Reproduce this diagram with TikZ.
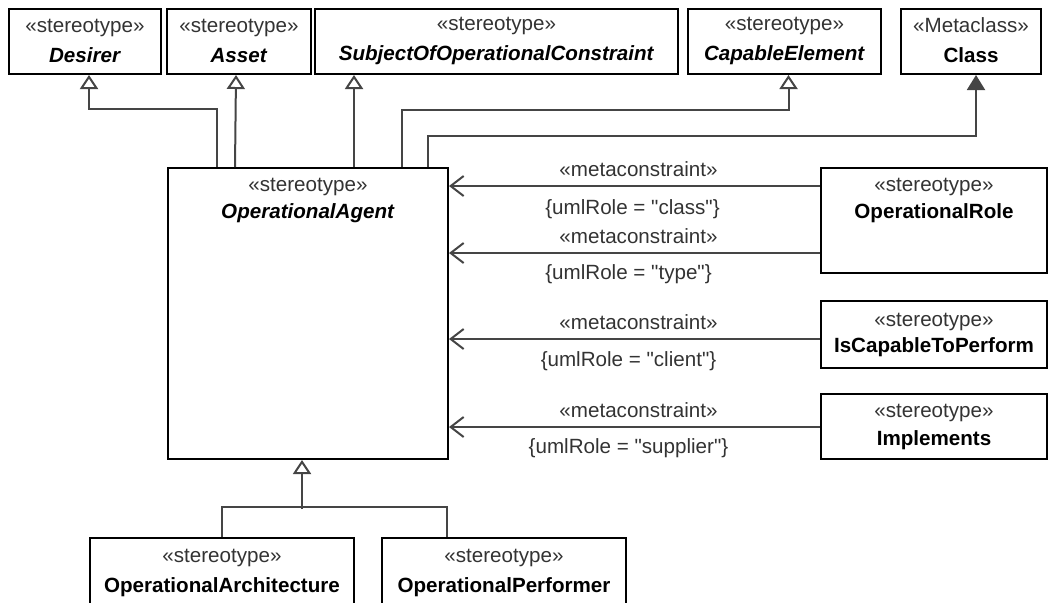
\documentclass[tikz,border=0pt]{standalone}
\usepackage{fontspec}
\setmainfont{Liberation Sans}
\newfontfamily\plainf{Liberation Sans}
\usetikzlibrary{arrows.meta,calc}
\definecolor{stc}{HTML}{333333}
\definecolor{lnc}{HTML}{454545}
\tikzset{
  box/.style={draw=black, line width=1pt, fill=white, inner sep=0pt, anchor=north west},
  txt/.style={align=center, font=\fontsize{10.3}{15}\selectfont, inner sep=0pt},
  gen/.style={draw=lnc, line width=1pt, -{Triangle[open, length=7pt, width=9pt, fill=white]}},
  dep/.style={draw=lnc, line width=1pt, -{Triangle[length=7.5pt, width=9pt]}},
  meta/.style={draw=lnc, line width=1pt, -{Straight Barb[length=6.5pt, width=10pt]}},
  lab/.style={font=\plainf\fontsize{10.3}{12}\selectfont, text=stc, inner sep=2pt},
}
\newcommand{\st}[1]{{\color{stc}«#1»}}
\begin{document}
\begin{tikzpicture}[x=0.5pt,y=-0.5pt]
\useasboundingbox (0,0) rectangle (1048,602);
\clip (0,0) rectangle (1048,602);
% top row
\node[box, minimum width=76pt, minimum height=32.5pt] (desirer) at (8,8) {};
\node[txt] at ($(desirer.center)+(0,-1)$) {\st{stereotype}\\\textbf{\textit{Desirer}}};
\node[box, minimum width=72pt, minimum height=32.5pt] (asset) at (166,8) {};
\node[txt] at ($(asset.center)+(0,-1)$) {\st{stereotype}\\\textbf{\textit{Asset}}};
\node[box, minimum width=181.5pt, minimum height=32.5pt] (subject) at (314,8) {};
\node[txt] at ($(subject.center)+(0,-1)$) {\st{stereotype}\\\textbf{\textit{SubjectOfOperationalConstraint}}};
\node[box, minimum width=96.5pt, minimum height=32.5pt] (capable) at (687,8) {};
\node[txt] at ($(capable.center)+(0,-1)$) {\st{stereotype}\\\textbf{\textit{CapableElement}}};
\node[box, minimum width=70pt, minimum height=32.5pt] (class) at (900,8) {};
\node[txt] at ($(class.center)+(0,-1)$) {\st{Metaclass}\\\textbf{Class}};
% central
\node[box, minimum width=140pt, minimum height=145.5pt] (oa) at (167,167) {};
\node[txt, anchor=north] at ($(oa.north)+(0,11)$) {\st{stereotype}\\[-1.5pt]\textbf{\textit{OperationalAgent}}};
% right
\node[box, minimum width=113pt, minimum height=52.5pt] (oprole) at (820,167) {};
\node[txt, anchor=north] at ($(oprole.north)+(0,11)$) {\st{stereotype}\\[-1.5pt]\textbf{OperationalRole}};
\node[box, minimum width=113pt, minimum height=33.5pt] (iscap) at (820,300) {};
\node[txt] at (iscap.center) {\st{stereotype}\\[-2pt]\textbf{IsCapableToPerform}};
\node[box, minimum width=113pt, minimum height=32.5pt] (impl) at (820,393) {};
\node[txt] at (impl.center) {\st{stereotype}\\[-1pt]\textbf{Implements}};
% bottom
\node[box, minimum width=132pt, minimum height=40pt] (oparch) at (89,537) {};
\node[txt, anchor=north] at ($(oparch.north)+(0,12)$) {\st{stereotype}\\\textbf{OperationalArchitecture}};
\node[box, minimum width=122pt, minimum height=40pt] (opperf) at (381,537) {};
\node[txt, anchor=north] at ($(opperf.north)+(0,12)$) {\st{stereotype}\\\textbf{OperationalPerformer}};
% generalizations (top)
\draw[gen] ($(oa.north west)+(50,0)$) |- ($(desirer.south)+(4,34)$) -- ($(desirer.south)+(4,0)$);
\draw[gen] ($(oa.north west)+(68,0)$) -- ($(asset.south)+(-3,0)$);
\draw[gen] ($(oa.north west)+(187,0)$) -- ($(subject.south west)+(40,0)$);
\draw[gen] ($(oa.north west)+(235,0)$) |- ($(capable.south)+(4,35)$) -- ($(capable.south)+(4,0)$);
\draw[dep] ($(oa.north west)+(261,0)$) |- ($(class.south)+(5,61)$) -- ($(class.south)+(5,0)$);
% metaconstraints
\draw[meta] ($(oprole.north west)+(0,19)$) -- node[lab, above=2pt, xshift=2pt]{«metaconstraint»} node[lab, below=4.5pt, xshift=-1pt]{\{umlRole = "class"\}} ($(oa.north east)+(0,19)$);
\draw[meta] ($(oprole.north west)+(0,86)$) -- node[lab, above=2pt, xshift=2pt]{«metaconstraint»} node[lab, below=3.5pt, xshift=-3pt]{\{umlRole = "type"\}} ($(oa.north east)+(0,86)$);
\draw[meta] ($(iscap.north west)+(0,39)$) -- node[lab, above=2pt, xshift=2pt]{«metaconstraint»} node[lab, below=4pt, xshift=-3pt]{\{umlRole = "client"\}} ($(oa.north east)+(0,172)$);
\draw[meta] ($(impl.north west)+(0,34)$) -- node[lab, above=2pt, xshift=2pt]{«metaconstraint»} node[lab, below=3.5pt, xshift=-3pt]{\{umlRole = "supplier"\}} ($(oa.north east)+(0,260)$);
% generalizations (bottom)
\draw[draw=lnc, line width=1pt] (oparch.north) |- ($(opperf.north west)+(66,-30)$) -- ($(opperf.north west)+(66,0)$);
\draw[gen] ($(oa.south)+(-6,49)$) -- ($(oa.south)+(-6,0)$);
\end{tikzpicture}
\end{document}
